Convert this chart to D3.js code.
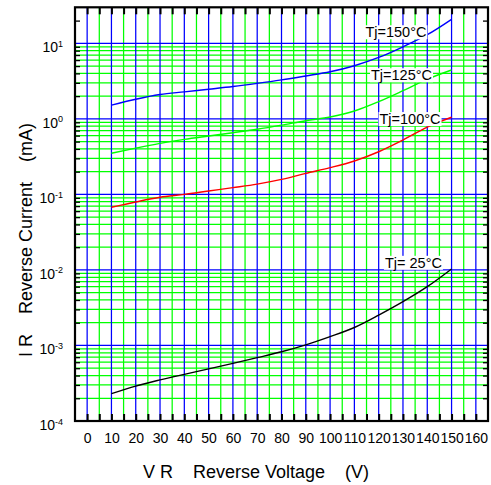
<!DOCTYPE html>
<html><head><meta charset="utf-8">
<script src="https://cdn.jsdelivr.net/npm/d3@7"></script>
<style>
body{margin:0;background:#fff}
svg{display:block}
text{font-family:"Liberation Sans",Arial,Helvetica,sans-serif;fill:#000}
</style>
</head><body>
<svg id="c" width="491" height="485"></svg>
<script>
// ---- data ----
const voltages = [10,20,30,40,50,60,70,80,90,100,110,120,130,140,150];
const ir150 = [1.52,1.82,2.1,2.28,2.47,2.68,2.95,3.28,3.7,4.2,5.05,6.5,9.0,13.0,20.8];
const ir125 = [0.35,0.41,0.474,0.535,0.593,0.656,0.728,0.825,0.946,1.06,1.27,1.69,2.36,3.35,4.44];
const ir100 = [0.0675,0.0794,0.0916,0.1,0.111,0.123,0.137,0.158,0.19,0.226,0.277,0.367,0.525,0.78,1.05];
const ir25  = [2.3e-4,2.9e-4,3.5e-4,4.15e-4,4.9e-4,5.8e-4,6.9e-4,8.25e-4,1.02e-3,1.31e-3,1.73e-3,2.52e-3,3.8e-3,6.0e-3,1.03e-2];
const seriesNames = ["Tj=150°C","Tj=125°C","Tj=100°C","Tj= 25°C"];
const seriesValues = [ir150, ir125, ir100, ir25];
const seriesColors = ["#0000ff","#00ff00","#ff0000","#000000"];
const labelV = [127.1, 129.4, 132.9, 134.3];
const labelI = [14.1, 3.8, 1.0, 0.0125];
const xTicks = [0,10,20,30,40,50,60,70,80,90,100,110,120,130,140,150,160];
const xMinorTicks = [0,5,10,15,20,25,30,35,40,45,50,55,60,65,70,75,80,85,90,95,100,105,110,115,120,125,130,135,140,145,150,155,160];
const yDecades = [1e-4,1e-3,1e-2,1e-1,1e0,1e1];
const yExponents = ["-4","-3","-2","-1","0","1"];
const xTitle = "V R    Reverse Voltage    (V)";
const yTitle = "I R    Reverse Current    (mA)";

// ---- layout ----
const L = 75, R = 488, T = 7.3, B = 421;
const svg = d3.select("#c");
const x = d3.scaleLinear().domain([-5,165]).range([L,R]);
const y = d3.scaleLog().domain([1e-4,30]).range([B,T]);

const minorY = [];
for (let e = -4; e <= 0; e++) for (let k = 2; k <= 9; k++) minorY.push(k*Math.pow(10,e));
const tickMinorY = minorY.concat([20]);

// grid: green first
const g = svg.append("g");
const gw = 1.25;
g.selectAll("line.gv").data(xMinorTicks.filter(d => d % 10 !== 0)).join("line").attr("class","gv")
  .attr("x1", d => x(d)).attr("x2", d => x(d))
  .attr("y1", T).attr("y2", B).attr("stroke","#00ff00").attr("stroke-width",gw);
g.selectAll("line.gh").data(minorY).join("line").attr("class","gh")
  .attr("y1", d => y(d)).attr("y2", d => y(d))
  .attr("x1", L).attr("x2", R).attr("stroke","#00ff00").attr("stroke-width",gw);
// blue
g.selectAll("line.bv").data(xTicks).join("line").attr("class","bv")
  .attr("x1", d => x(d)).attr("x2", d => x(d))
  .attr("y1", T).attr("y2", B).attr("stroke","#0000ff").attr("stroke-width",gw);
g.selectAll("line.bh").data(yDecades.slice(1)).join("line").attr("class","bh")
  .attr("y1", d => y(d)).attr("y2", d => y(d))
  .attr("x1", L).attr("x2", R).attr("stroke","#0000ff").attr("stroke-width",gw);

// curves
const line = d3.line().x(d => x(d[0])).y(d => y(d[1])).curve(d3.curveMonotoneX);
seriesValues.forEach((vals, i) => {
  svg.append("path").datum(voltages.map((v,j) => [v, vals[j]]))
    .attr("d", line).attr("fill","none")
    .attr("stroke", seriesColors[i]).attr("stroke-width",1.4);
});

// labels with white background
seriesNames.forEach((name, i) => {
  const cx = x(labelV[i]), cy = y(labelI[i]);
  const lg = svg.append("g");
  const t = lg.append("text").attr("x", cx).attr("y", cy + 5.2)
    .attr("text-anchor","middle").style("font-size","14.5px")
    .style("white-space","pre").text(name);
  const bb = t.node().getBBox();
  lg.insert("rect","text").attr("x", bb.x-1).attr("y", bb.y+1)
    .attr("width", bb.width+2).attr("height", bb.height-2).attr("fill","#fff");
});

// tick marks via axes
svg.append("g").attr("transform",`translate(0,${B})`)
  .call(d3.axisTop(x).tickValues(xMinorTicks).tickSize(7).tickFormat(""))
  .call(a => { a.select(".domain").remove(); a.selectAll("line").attr("stroke","#000").attr("stroke-width",2); });
svg.append("g").attr("transform",`translate(0,${T})`)
  .call(d3.axisBottom(x).tickValues(xMinorTicks).tickSize(7).tickFormat(""))
  .call(a => { a.select(".domain").remove(); a.selectAll("line").attr("stroke","#000").attr("stroke-width",2); });
svg.append("g").attr("transform",`translate(${L},0)`)
  .call(d3.axisRight(y).tickValues(tickMinorY).tickSize(5).tickFormat(""))
  .call(a => { a.select(".domain").remove(); a.selectAll("line").attr("stroke","#000").attr("stroke-width",1.3); });
svg.append("g").attr("transform",`translate(${R},0)`)
  .call(d3.axisLeft(y).tickValues(tickMinorY).tickSize(5).tickFormat(""))
  .call(a => { a.select(".domain").remove(); a.selectAll("line").attr("stroke","#000").attr("stroke-width",1.3); });

// x tick labels
svg.append("g").attr("transform",`translate(0,${B})`)
  .call(d3.axisBottom(x).tickValues(xTicks).tickSize(0).tickPadding(0))
  .call(a => {
    a.select(".domain").remove();
    a.selectAll("text").attr("dy",null).attr("y",22).attr("fill","#000")
      .style("font-size","14px").style("font-family",'"Liberation Sans",Arial,sans-serif');
  });

// y tick labels (10^n)
yDecades.forEach((d,i) => {
  const t = svg.append("text").attr("x", 63).attr("y", y(d)+9)
    .attr("text-anchor","end").style("font-size","14px");
  t.append("tspan").text("10");
  t.append("tspan").attr("dy",-5.5).style("font-size","9px").text(yExponents[i]);
});

// frame
svg.append("rect").attr("x",L).attr("y",T).attr("width",R-L).attr("height",B-T)
  .attr("fill","none").attr("stroke","#000").attr("stroke-width",2.2);

// titles
svg.append("text").attr("x",143).attr("y",478).style("font-size","18px")
  .style("white-space","pre").text(xTitle);
svg.append("text").attr("transform","translate(31.5,240) rotate(-90)")
  .attr("text-anchor","middle").style("font-size","18px")
  .style("white-space","pre").text(yTitle);
</script>
</body></html>
